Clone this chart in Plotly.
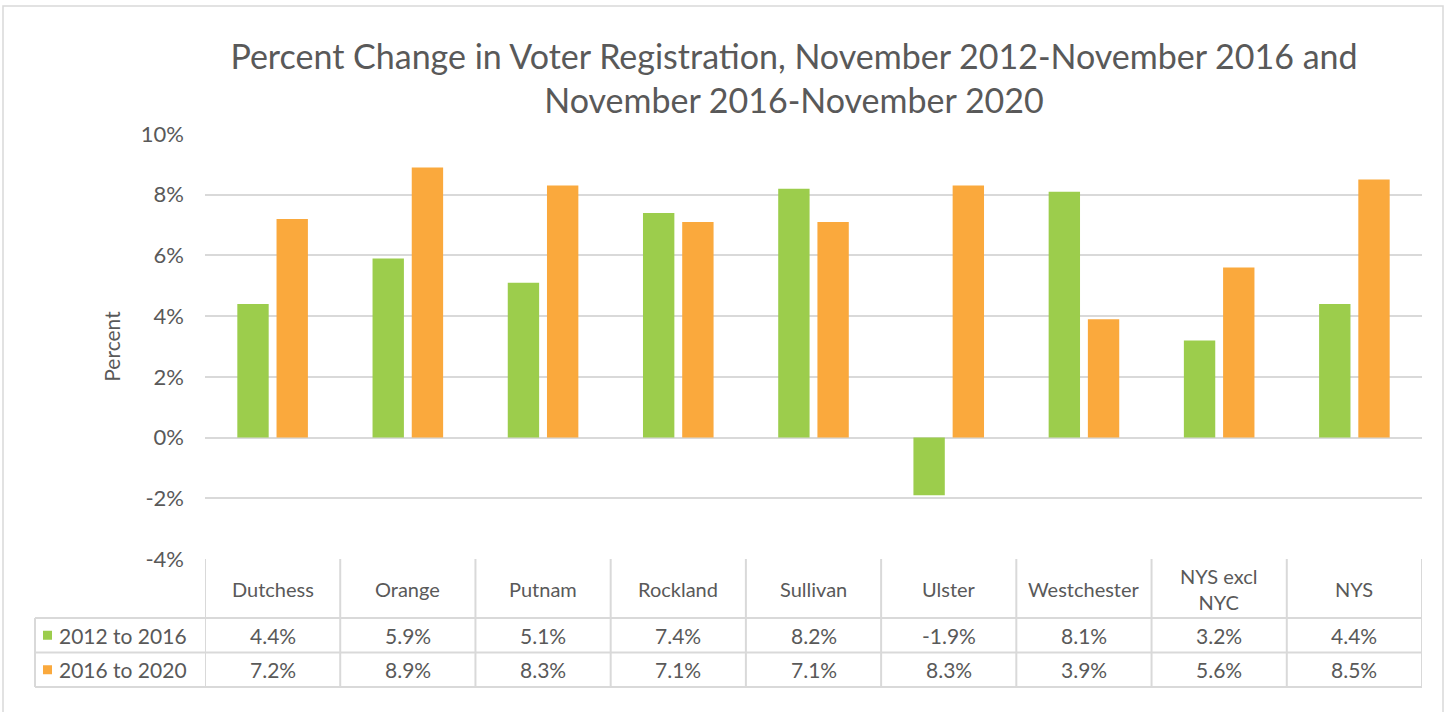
import plotly.graph_objects as go

categories = ["Dutchess", "Orange", "Putnam", "Rockland", "Sullivan", "Ulster",
              "Westchester", "NYS excl<br>NYC", "NYS"]
series_names = ["2012 to 2016", "2016 to 2020"]
vals_2012_2016 = [4.4, 5.9, 5.1, 7.4, 8.2, -1.9, 8.1, 3.2, 4.4]
vals_2016_2020 = [7.2, 8.9, 8.3, 7.1, 7.1, 8.3, 3.9, 5.6, 8.5]
tick_vals = [-4, -2, 0, 2, 4, 6, 8, 10]
tick_text = ["-4%", "-2%", "0%", "2%", "4%", "6%", "8%", "10%"]

GREEN = "#9CCD4C"
ORANGE = "#FAA93D"
TXT = "#595959"
GRID = "#D9D9D9"
FONT = "Lato"

W, H = 1445, 712
L, R, T, B = 205, 1422, 134, 559  # plot area in pixels

def px_x(px):
    return (px - L) / (R - L)

def px_y(py):
    return (B - py) / (B - T)

x_idx = list(range(len(categories)))

fig = go.Figure()
fig.add_trace(go.Bar(x=x_idx, y=vals_2012_2016, name=series_names[0],
                     marker=dict(color=GREEN, line=dict(width=0))))
fig.add_trace(go.Bar(x=x_idx, y=vals_2016_2020, name=series_names[1],
                     marker=dict(color=ORANGE, line=dict(width=0))))

shapes = []
annotations = []

# table geometry (screen pixels)
y_top, y_head, y_r1, y_r2 = 559, 618, 652.5, 687
x_lab = 35
line = dict(color=GRID, width=2)

for yy in [y_head, y_r1, y_r2]:
    shapes.append(dict(type="line", xref="paper", yref="paper",
                       x0=px_x(x_lab), x1=1, y0=px_y(yy), y1=px_y(yy), line=line))
for i in range(len(categories) + 1):
    shapes.append(dict(type="line", xref="x", yref="paper",
                       x0=i - 0.5, x1=i - 0.5, y0=px_y(y_top), y1=px_y(y_r2), line=line))
shapes.append(dict(type="line", xref="paper", yref="paper",
                   x0=px_x(x_lab), x1=px_x(x_lab), y0=px_y(y_head), y1=px_y(y_r2), line=line))

for i, c in enumerate(categories):
    annotations.append(dict(x=i, y=px_y((y_top + y_head) / 2), xref="x", yref="paper",
                            text=c, showarrow=False, yanchor="middle",
                            font=dict(family=FONT, size=20, color=TXT)))
rows = [(vals_2012_2016, GREEN, (y_head + y_r1) / 2),
        (vals_2016_2020, ORANGE, (y_r1 + y_r2) / 2)]
for (vals, col, yc), nm in zip(rows, series_names):
    shapes.append(dict(type="rect", xref="paper", yref="paper",
                       x0=px_x(43), x1=px_x(52), y0=px_y(yc - 4.5), y1=px_y(yc + 4.5),
                       fillcolor=col, line=dict(width=0)))
    annotations.append(dict(x=px_x(57), y=px_y(yc), xref="paper", yref="paper",
                            text=nm, showarrow=False, xanchor="left", yanchor="middle",
                            font=dict(family=FONT, size=21, color=TXT)))
    for i, v in enumerate(vals):
        annotations.append(dict(x=i, y=px_y(yc), xref="x", yref="paper",
                                text=f"{v:.1f}%", showarrow=False, yanchor="middle",
                                font=dict(family=FONT, size=21, color=TXT)))

# chart border
shapes.append(dict(type="rect", xref="paper", yref="paper",
                   x0=px_x(3), x1=px_x(1443), y0=px_y(6), y1=px_y(740),
                   line=dict(color=GRID, width=1.5), fillcolor="rgba(0,0,0,0)", layer="below"))

fig.update_layout(
    width=W, height=H,
    margin=dict(l=L, r=W - R, t=T, b=H - B, pad=0),
    paper_bgcolor="white", plot_bgcolor="white",
    showlegend=False,
    barmode="group", bargap=0.42, bargroupgap=0.2,
    title=dict(text="Percent Change in Voter Registration, November 2012-November 2016 and<br>November 2016-November 2020",
               x=794 / W, xanchor="center", xref="container",
               y=1 - 69 / H, yanchor="middle", yref="container",
               font=dict(family=FONT, size=34, color=TXT)),
    xaxis=dict(range=[-0.5, len(categories) - 0.5], showticklabels=False,
               showgrid=False, zeroline=False, showline=False, fixedrange=True),
    yaxis=dict(range=[-4, 10], tickvals=tick_vals, ticktext=tick_text,
               showgrid=True, gridcolor=GRID, gridwidth=1.5,
               zeroline=True, zerolinecolor=GRID, zerolinewidth=1.5,
               showline=False, ticks="", ticklabelstandoff=20,
               tickfont=dict(family=FONT, size=22, color=TXT),
               title=dict(text="Percent", standoff=14,
                          font=dict(family=FONT, size=21, color=TXT))),
    shapes=shapes, annotations=annotations,
)

fig.write_html("out.html", config={"displayModeBar": False},
               post_script="document.body.style.margin='0px';document.body.style.overflow='hidden';")
